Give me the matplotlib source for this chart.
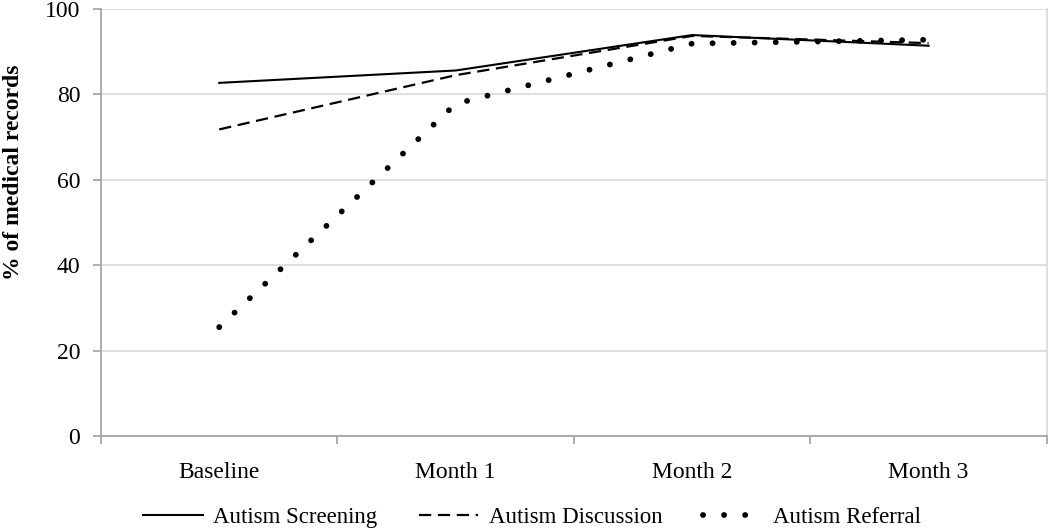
import matplotlib.pyplot as plt
from matplotlib.ticker import FixedLocator, NullFormatter

plt.rcParams['font.family'] = ['Liberation Serif', 'DejaVu Serif']

meses = ['Baseline', 'Month 1', 'Month 2', 'Month 3']
screening = [82.7, 85.6, 93.9, 91.4]
discussion = [71.8, 84.5, 93.7, 92.0]
referral = [25.5, 77.8, 91.9, 92.8]

fig = plt.figure(figsize=(10.5, 5.29), dpi=100)
ax = fig.add_axes([0.0962, 0.1758, 0.9008, 0.8072])

x = list(range(len(meses)))
ax.plot(x, screening, color='black', lw=1.5, label='Autism Screening')
ax.plot(x, discussion, color='black', lw=1.6, linestyle=(0, (5.5, 3)),
        label='Autism Discussion')
ax.plot(x, referral, color='black', lw=4.2, linestyle=(0, (0.01, 3.6)),
        dash_capstyle='round', label='Autism Referral')

############
ax.set_ylim(0, 100)
ax.set_xlim(-0.5, 3.5)
ax.set_yticks([0, 20, 40, 60, 80, 100])
ax.yaxis.grid(True, color='#d9d9d9', lw=1.2)
ax.set_axisbelow(True)

ax.xaxis.set_major_locator(FixedLocator([-0.5, 0.5, 1.5, 2.5, 3.5]))
ax.xaxis.set_major_formatter(NullFormatter())
ax.xaxis.set_minor_locator(FixedLocator(x))
ax.set_xticklabels(meses, minor=True)
ax.tick_params(axis='x', which='minor', length=0, pad=19, labelsize=17)
ax.tick_params(axis='x', which='major', length=6, color='#a6a6a6', width=1.3)
ax.tick_params(axis='y', length=6, color='#a6a6a6', width=1.3, pad=9, labelsize=17)

ax.spines['top'].set_visible(False)
ax.spines['right'].set_color('#d9d9d9')
ax.spines['right'].set_linewidth(1.2)
ax.spines['left'].set_color('#a6a6a6')
ax.spines['left'].set_linewidth(1.3)
ax.spines['bottom'].set_color('#a6a6a6')
ax.spines['bottom'].set_linewidth(1.3)

ax.set_ylabel('% of medical records', fontsize=17, fontweight='bold')
ax.yaxis.set_label_coords(-0.081, 0.618)
############

fig.legend(loc='lower center', bbox_to_anchor=(0.507, -0.038), ncol=3, frameon=False,
           fontsize=16.5, handlelength=2.6, handletextpad=0.45, columnspacing=1.8)

plt.savefig('out.png', dpi=100)
